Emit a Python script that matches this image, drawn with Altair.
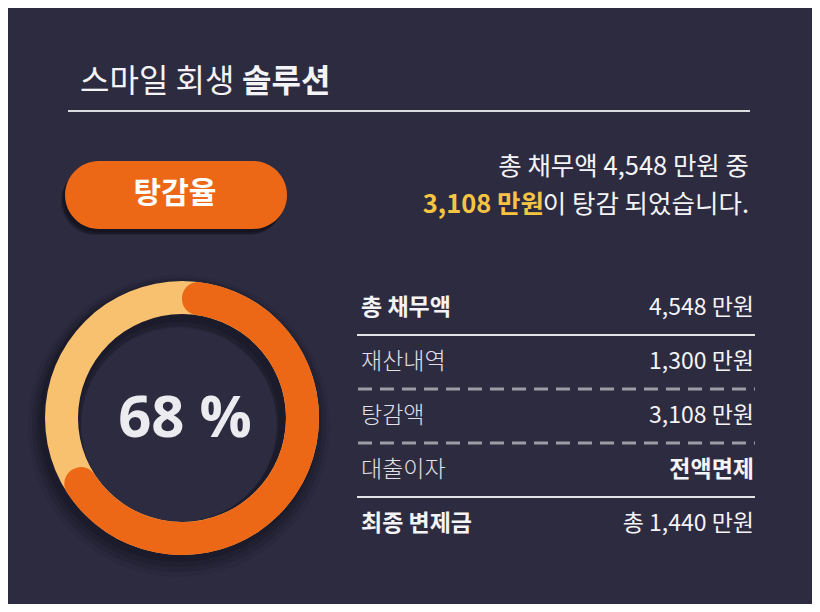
import altair as alt
import pandas as pd

# ---------------- data ----------------
title_light = "스마일 회생"
title_bold = "솔루션"
badge_label = "탕감율"
summary_line1 = "총 채무액 4,548 만원 중"
summary_highlight = "3,108 만원"
summary_rest = "이 탕감 되었습니다."

part_names = ["탕감", "잔여"]
part_pct = [68, 32]

row_labels = ["총 채무액", "재산내역", "탕감액", "대출이자", "최종 변제금"]
row_values = ["4,548 만원", "1,300 만원", "3,108 만원", "전액면제", "총 1,440 만원"]
row_label_bold = [True, False, False, False, True]
row_value_bold = [False, False, False, True, False]
separator_styles = ["solid", "dashed", "dashed", "solid"]

# ---------------- layout / style ----------------
M = 8  # page margin
W, H = 820 - 2 * M, 612 - 2 * M
def px(v):
    return v - M

BG = "#2d2b40"
ORANGE = "#ec6817"
LIGHT = "#f7c16f"
YELLOW = "#f6c443"
WHITE = "#f4f4f6"
KFONT = "Noto Sans CJK KR"

parts = pd.DataFrame({"part": part_names, "pct": part_pct, "ord": [0, 1]})
rows = pd.DataFrame({
    "row": list(range(len(row_labels))),
    "label": row_labels,
    "value": row_values,
    "lb": row_label_bold,
    "vb": row_value_bold,
})
seps = pd.DataFrame({"pos": [i + 0.5 for i in range(len(separator_styles))],
                     "style": separator_styles})

yscale = alt.Scale(domain=[0, 4], range=[px(308), px(524)])

base = alt.Chart(parts)

layers = []

# title
layers.append(alt.Chart(pd.DataFrame({"t": [title_light]})).mark_text(
    align="left", baseline="middle", font=KFONT, fontSize=32, fontWeight=400, color=WHITE
).encode(text="t:N", x=alt.value(px(80)), y=alt.value(px(82))))
layers.append(alt.Chart(pd.DataFrame({"t": [title_bold]})).mark_text(
    align="left", baseline="middle", font=KFONT, fontSize=32, fontWeight="bold", color=WHITE
).encode(text="t:N", x=alt.value(px(242)), y=alt.value(px(82))))
layers.append(alt.Chart(pd.DataFrame({"a": [0]})).mark_rule(color="#dcdce0", strokeWidth=2).encode(
    x=alt.value(px(68)), x2=alt.value(px(750)), y=alt.value(px(111))))

# badge shadow + badge
for dx, dy, op in [(-4, 6, 0.25), (-3, 5, 0.35), (-2, 3, 0.35)]:
    layers.append(alt.Chart(pd.DataFrame({"a": [0]})).mark_rect(
        cornerRadius=34, color="#0c0b14", opacity=op
    ).encode(x=alt.value(px(65 + dx)), x2=alt.value(px(287 + dx)),
             y=alt.value(px(161 + dy)), y2=alt.value(px(229 + dy))))
layers.append(alt.Chart(pd.DataFrame({"a": [0]})).mark_rect(
    cornerRadius=34, color=ORANGE
).encode(x=alt.value(px(65)), x2=alt.value(px(287)),
         y=alt.value(px(161)), y2=alt.value(px(229))))
layers.append(alt.Chart(pd.DataFrame({"t": [badge_label]})).mark_text(
    align="center", baseline="middle", font=KFONT, fontSize=30, fontWeight="bold", color="white"
).encode(text="t:N", x=alt.value(px(175)), y=alt.value(px(194))))

# summary
layers.append(alt.Chart(pd.DataFrame({"t": [summary_line1]})).mark_text(
    align="right", baseline="middle", font=KFONT, fontSize=25.5, fontWeight=400, color=WHITE
).encode(text="t:N", x=alt.value(px(749)), y=alt.value(px(167))))
layers.append(alt.Chart(pd.DataFrame({"t": [summary_rest]})).mark_text(
    align="right", baseline="middle", font=KFONT, fontSize=25.5, fontWeight=400, color=WHITE
).encode(text="t:N", x=alt.value(px(749)), y=alt.value(px(205))))
layers.append(alt.Chart(pd.DataFrame({"t": [summary_highlight]})).mark_text(
    align="right", baseline="middle", font=KFONT, fontSize=25.5, fontWeight="bold", color=YELLOW
).encode(text="t:N", x=alt.value(px(544)), y=alt.value(px(205))))

# donut
CX, CY = px(182), px(418)
R_OUT, R_IN = 137, 104
TAU = 6.283185307
for r_out, r_in, dy, op in [(151, 98, 8, 0.08), (147, 98, 7, 0.12), (143, 98, 6, 0.16), (140, 100, 4, 0.2)]:
    layers.append(alt.Chart(pd.DataFrame({"a": [0]})).mark_arc(
        radius=r_out, radius2=r_in, theta=0, theta2=TAU, color="#0c0b14", opacity=op
    ).encode(x=alt.value(CX - 3), y=alt.value(CY + dy)))

theta_scale = alt.Scale(domain=[0, 100], range=[0, TAU])
layers.append(base.transform_aggregate(total="sum(pct)").mark_arc(
    radius=R_OUT, radius2=R_IN, color=LIGHT
).encode(theta=alt.Theta("total:Q", scale=theta_scale), x=alt.value(CX), y=alt.value(CY)))
layers.append(base.transform_filter(alt.datum.ord == 0).mark_arc(
    radius=R_OUT, radius2=R_IN, color=ORANGE, cornerRadius=16
).encode(theta=alt.Theta("pct:Q", scale=theta_scale), x=alt.value(CX), y=alt.value(CY)))

pct_text = base.transform_filter(alt.datum.ord == 0).transform_calculate(
    lab="datum.pct + ' %'")
layers.append(pct_text.mark_text(
    align="center", baseline="middle", font="Open Sans", fontSize=58, fontWeight="bold",
    color="#ececf0"
).encode(text="lab:N", x=alt.value(CX + 3), y=alt.value(CY + 2)))

# table separators
sep_base = alt.Chart(seps)
layers.append(sep_base.transform_filter(alt.datum.style == "solid").mark_rule(
    color="#e4e4e8", strokeWidth=2
).encode(y=alt.Y("pos:Q", scale=yscale, axis=None), x=alt.value(px(357)), x2=alt.value(px(755))))
layers.append(sep_base.transform_filter(alt.datum.style == "dashed").mark_rule(
    color="#9c9ca6", strokeWidth=3, strokeDash=[14, 8]
).encode(y=alt.Y("pos:Q", scale=yscale, axis=None), x=alt.value(px(358)), x2=alt.value(px(755))))

# table text
row_base = alt.Chart(rows)
for flag, weight, col in [(True, "bold", WHITE), (False, 300, "#e2e2e6")]:
    layers.append(row_base.transform_filter(alt.datum.lb == flag).mark_text(
        align="left", baseline="middle", font=KFONT, fontSize=23, fontWeight=weight, color=col
    ).encode(text="label:N", y=alt.Y("row:Q", scale=yscale, axis=None), x=alt.value(px(361))))
for flag, weight in [(True, "bold"), (False, 400)]:
    layers.append(row_base.transform_filter(alt.datum.vb == flag).mark_text(
        align="right", baseline="middle", font=KFONT, fontSize=23, fontWeight=weight, color=WHITE
    ).encode(text="value:N", y=alt.Y("row:Q", scale=yscale, axis=None), x=alt.value(px(754))))

chart = alt.layer(*layers).properties(
    width=W, height=H, background=BG, padding=0,
    autosize=alt.AutoSizeParams(type="none"),
).configure_view(strokeWidth=0)

chart.save("out.html", embed_options={"renderer": "svg", "actions": False})
